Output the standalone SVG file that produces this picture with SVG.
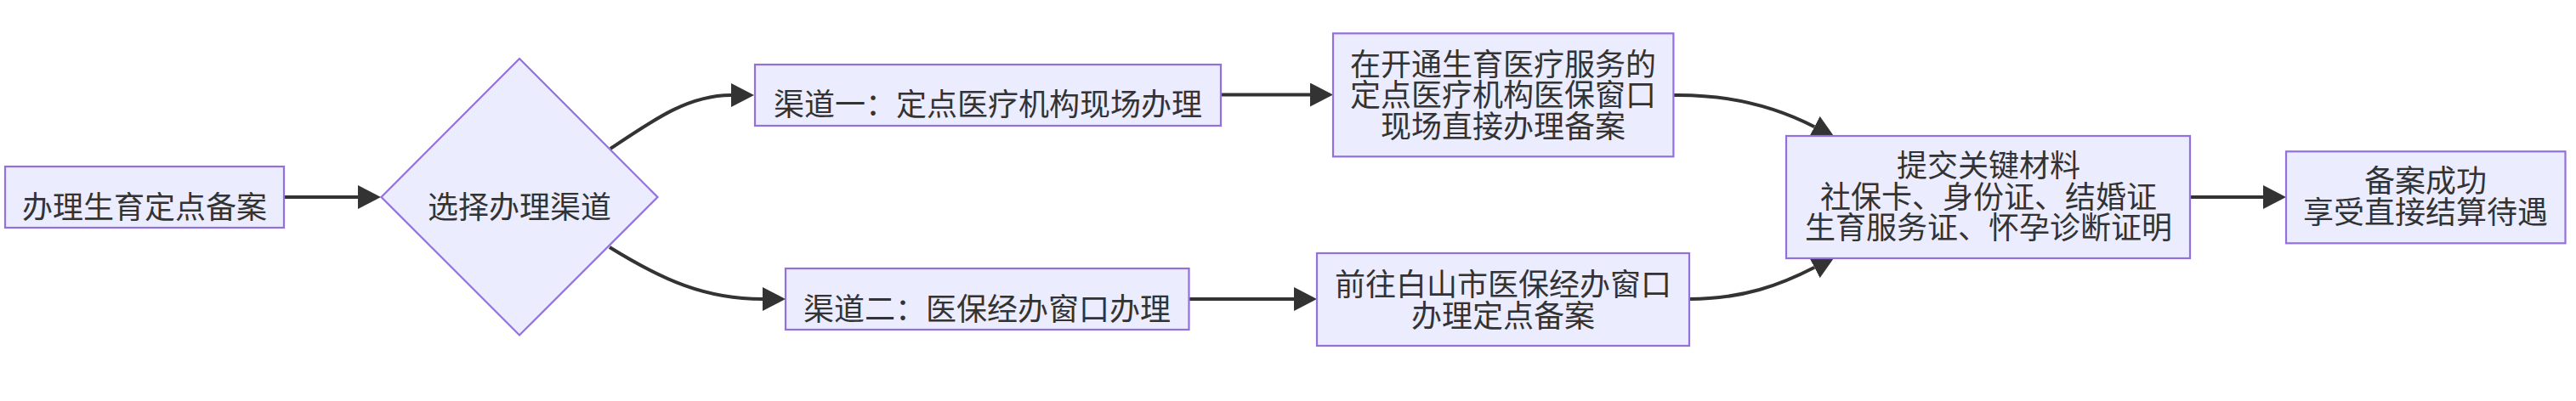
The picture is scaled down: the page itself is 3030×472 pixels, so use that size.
<svg xmlns="http://www.w3.org/2000/svg" width="3030" height="472" viewBox="0 0 3030 472">
<style>
.node rect, .node polygon { fill: #ECECFF; stroke: #9370DB; stroke-width: 2.2; }
.node text { font-family: "Noto Sans CJK SC", "Noto Sans", sans-serif; font-size: 36px; fill: #333333; text-anchor: middle; }
.edge { fill: none; stroke: #333333; stroke-width: 4; }
</style>
<defs>
<marker id="arrow" viewBox="0 0 27 28" refX="0" refY="14" markerWidth="27" markerHeight="28" markerUnits="userSpaceOnUse" orient="auto">
<path d="M0,0 L27,14 L0,28 z" fill="#333333"/>
</marker>
</defs>
<rect width="3030" height="472" fill="#ffffff"/>
<g id="connectors">
<path class="edge" d="M334,232 L421,232" marker-end="url(#arrow)"/>
<path class="edge" d="M718,175 C770,140 810,112 860,112" marker-end="url(#arrow)"/>
<path class="edge" d="M717,291 C780,330 830,352 897,352" marker-end="url(#arrow)"/>
<path class="edge" d="M1436,111.5 L1541,111.5" marker-end="url(#arrow)"/>
<path class="edge" d="M1398.5,352 L1522,352" marker-end="url(#arrow)"/>
<path class="edge" d="M1968,112 C2040,111 2095,129 2134.2,149.3" marker-end="url(#arrow)"/>
<path class="edge" d="M1987,352 C2050,352 2095,335 2134.2,314.7" marker-end="url(#arrow)"/>
<path class="edge" d="M2576,232 L2662,232" marker-end="url(#arrow)"/>
</g>
<g id="node-start" class="node">
<rect x="6" y="196" width="328" height="72"/>
<text x="170" y="257">办理生育定点备案</text>
</g>
<g id="node-choose" class="node">
<polygon points="611,69 773.5,232 611,394.5 448.5,232"/>
<text x="611" y="257">选择办理渠道</text>
</g>
<g id="node-channel1" class="node">
<rect x="888" y="76" width="548" height="72"/>
<text x="1162" y="135.5">渠道一：定点医疗机构现场办理</text>
</g>
<g id="node-channel2" class="node">
<rect x="924" y="316" width="474.5" height="72"/>
<text x="1161" y="376.5">渠道二：医保经办窗口办理</text>
</g>
<g id="node-onsite" class="node">
<rect x="1568" y="39.3" width="400.4" height="145"/>
<text x="1768" y="88.5">在开通生育医疗服务的<tspan x="1768" dy="36.6">定点医疗机构医保窗口</tspan><tspan x="1768" dy="36.4">现场直接办理备案</tspan></text>
</g>
<g id="node-window" class="node">
<rect x="1549" y="298" width="438" height="109"/>
<text x="1768" y="348.2">前往白山市医保经办窗口<tspan x="1768" dy="36.4">办理定点备案</tspan></text>
</g>
<g id="node-materials" class="node">
<rect x="2101" y="160" width="475" height="144"/>
<text x="2339" y="208">提交关键材料<tspan x="2339" dy="36.5">社保卡、身份证、结婚证</tspan><tspan x="2339" dy="36.5">生育服务证、怀孕诊断证明</tspan></text>
</g>
<g id="node-success" class="node">
<rect x="2689" y="178.3" width="328.5" height="108"/>
<text x="2853" y="226">备案成功<tspan x="2853" dy="36.7">享受直接结算待遇</tspan></text>
</g>
</svg>
